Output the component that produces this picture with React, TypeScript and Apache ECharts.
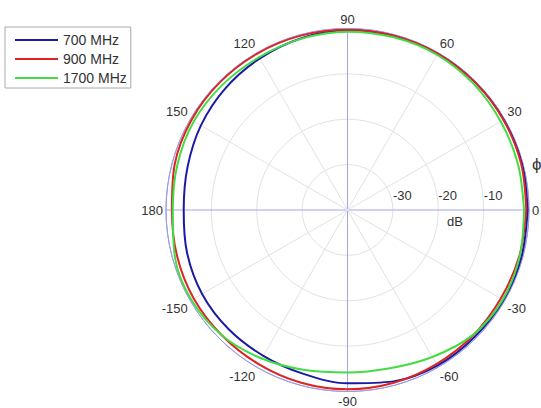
import React, { useEffect, useRef } from 'react';
import * as echarts from 'echarts';

// Angles (degrees) at which the patterns were read
const angles = [0, 15, 30, 45, 60, 75, 90, 105, 120, 135, 150, 165, 180, 195, 210, 225, 240, 255, 270, 285, 300, 315, 330, 345];

// Gain in dB at each angle
const gain700 = [-0.3, -0.2, -0.2, -0.2, -0.2, -0.3, -0.4, -0.8, -1.4, -2.0, -2.7, -3.5, -3.9, -3.4, -3.0, -2.9, -2.9, -2.6, -1.8, -0.9, -0.4, -0.4, -0.3, -0.3];
const gain900 = [-0.6, -0.4, -0.3, -0.2, -0.2, -0.2, -0.3, -0.2, -0.2, -0.2, -0.3, -0.6, -1.3, -1.1, -0.9, -0.9, -0.8, -0.6, -0.5, -0.6, -0.8, -0.9, -1.0, -0.8];
const gain1700 = [-1.1, -1.1, -1.0, -0.7, -0.5, -0.6, -0.7, -0.9, -1.1, -1.0, -0.9, -1.2, -1.5, -0.6, -0.3, -0.9, -2.2, -3.5, -4.2, -3.9, -2.6, -1.0, -0.5, -0.7];

const seriesNames = ['700 MHz', '900 MHz', '1700 MHz'];
const seriesColors = ['#1a1aa4', '#dc2424', '#44dc44'];

const radiusTickLabels = [-30, -20, -10];
const radiusMin = -40;
const radiusMax = 0;
const radiusStep = 10;
const angleStep = 30;

const FONT = "'Liberation Sans', Arial, Helvetica, sans-serif";

function closed(vals: number[]) {
  const pts = angles.map((a, i) => [vals[i], a]);
  pts.push([vals[0], 360]);
  return pts;
}

export default function App() {
  const ref = useRef<HTMLDivElement>(null);

  useEffect(() => {
    if (!ref.current) return;
    const chart = echarts.init(ref.current, undefined, { renderer: 'svg' });
    const gains = [gain700, gain900, gain1700];
    const option: any = {
      animation: false,
      backgroundColor: '#ffffff',
      polar: { center: [347.5, 210], radius: 181.5 },
      angleAxis: {
        type: 'value',
        min: 0,
        max: 360,
        interval: angleStep,
        startAngle: 0,
        clockwise: false,
        axisLine: { lineStyle: { color: '#9c9cdc', width: 1 } },
        axisTick: { show: false },
        axisLabel: {
          margin: 3,
          color: '#333333',
          fontSize: 13,
          fontFamily: FONT,
          formatter: (v: number) => (v >= 360 ? '' : String(v <= 180 ? v : v - 360)),
        },
        splitLine: {
          show: true,
          lineStyle: { color: ['#a4a4e4', '#e2e2e2', '#e2e2e2'], width: 1 },
        },
      },
      radiusAxis: {
        type: 'value',
        min: radiusMin,
        max: radiusMax,
        interval: radiusStep,
        axisLine: { show: false },
        axisTick: { show: false },
        axisLabel: {
          margin: 8,
          align: 'left',
          color: '#333333',
          fontSize: 13,
          fontFamily: FONT,
          formatter: (v: number) => (radiusTickLabels.includes(v) ? String(v) : ''),
        },
        splitLine: {
          show: true,
          lineStyle: { color: ['#e2e2e2', '#e2e2e2', '#e2e2e2', '#e2e2e2', '#9c9cdc'], width: 1 },
        },
      },
      legend: {
        orient: 'vertical',
        left: 5,
        top: 27,
        padding: [6, 4, 3, 10],
        itemGap: 5,
        itemWidth: 43,
        itemHeight: 2,
        icon: 'rect',
        borderColor: '#a8a8a8',
        borderWidth: 1,
        backgroundColor: '#ffffff',
        textStyle: { fontSize: 14, color: '#333333', fontFamily: FONT },
        data: seriesNames,
      },
      graphic: [
        {
          type: 'text',
          x: 455,
          y: 221,
          style: { text: 'dB', align: 'center', verticalAlign: 'middle', fontSize: 13, fontFamily: FONT, fill: '#333333' },
        },
        {
          type: 'text',
          x: 532,
          y: 164,
          style: { text: 'ϕ', align: 'left', verticalAlign: 'middle', fontSize: 17, fontFamily: FONT, fill: '#333333' },
        },
      ],
      series: seriesNames.map((name, i) => ({
        name,
        type: 'line',
        coordinateSystem: 'polar',
        data: closed(gains[i]),
        smooth: 0.34,
        showSymbol: false,
        symbol: 'none',
        lineStyle: { color: seriesColors[i], width: 2 },
        itemStyle: { color: seriesColors[i] },
        z: 3 + i,
      })),
    };
    chart.setOption(option);
    return () => chart.dispose();
  }, []);

  return (
    <div
      ref={ref}
      style={{ position: 'fixed', left: 0, top: 0, width: 541, height: 408 }}
    />
  );
}
